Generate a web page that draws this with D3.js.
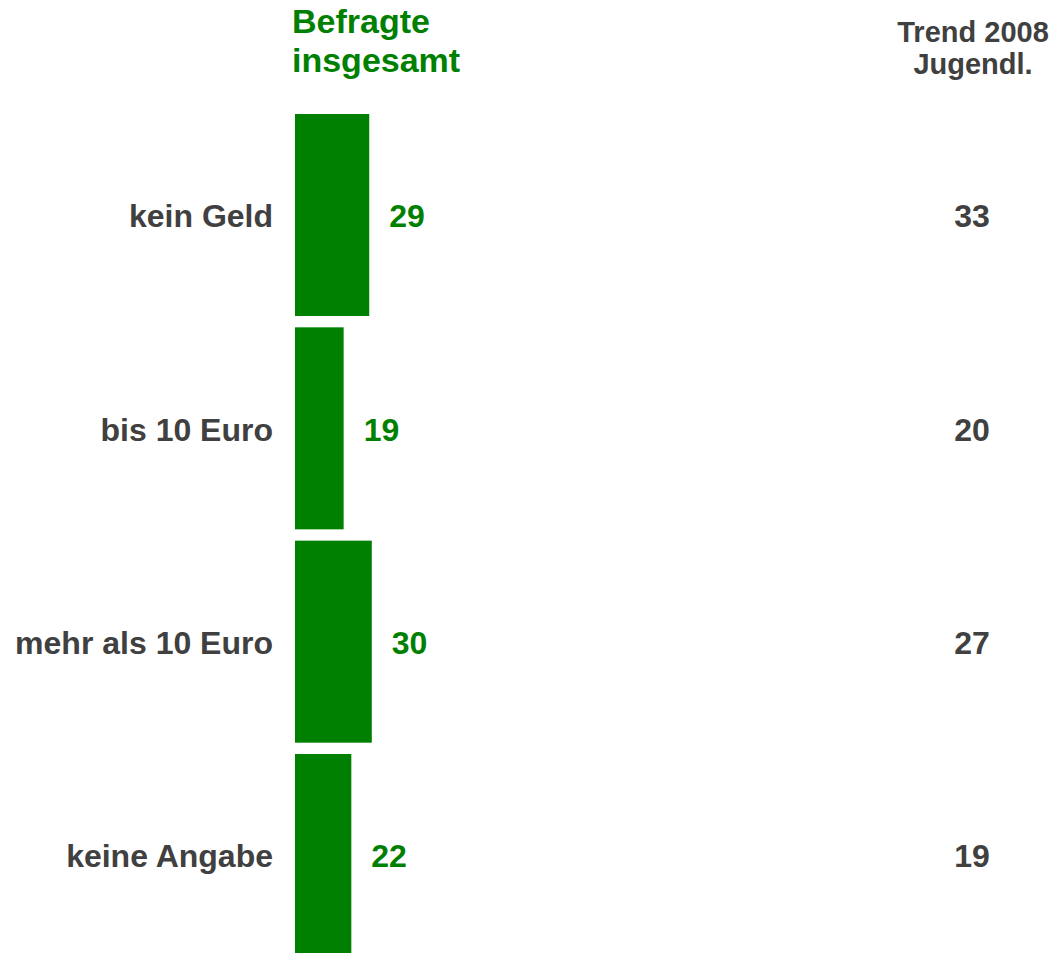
<!DOCTYPE html>
<html><head><meta charset="utf-8">
<script src="https://cdn.jsdelivr.net/npm/d3@7"></script>
<style>body{margin:0;background:#fff}svg{display:block}text{font-family:"Liberation Sans",Arial,sans-serif;font-weight:bold}</style>
</head><body>
<script>
const categories = ["kein Geld", "bis 10 Euro", "mehr als 10 Euro", "keine Angabe"];
const befragte = [29, 19, 30, 22];
const trend2008 = [33, 20, 27, 19];
const headerLeft = ["Befragte", "insgesamt"];
const headerRight = ["Trend 2008", "Jugendl."];

const W = 1051, H = 953;
const green = "#008000", grey = "#404040";
const svg = d3.select("body").append("svg").attr("width", W).attr("height", H);

const x = d3.scaleLinear().domain([0, 100]).range([295, 551]);
const y = d3.scaleBand().domain(categories).range([114, 956]).paddingInner(0.053).paddingOuter(0);

svg.selectAll("rect.bar").data(categories).join("rect")
  .attr("class", "bar")
  .attr("x", x(0)).attr("y", d => y(d))
  .attr("width", (d, i) => x(befragte[i]) - x(0))
  .attr("height", y.bandwidth())
  .attr("fill", green);

svg.selectAll("text.cat").data(categories).join("text")
  .attr("class", "cat")
  .attr("x", 273).attr("y", d => y(d) + y.bandwidth() / 2 + 1)
  .attr("dy", "0.35em").attr("text-anchor", "end")
  .attr("font-size", 32).attr("fill", grey).text(d => d);

svg.selectAll("text.val").data(categories).join("text")
  .attr("class", "val")
  .attr("x", (d, i) => x(befragte[i]) + 20).attr("y", d => y(d) + y.bandwidth() / 2 + 1)
  .attr("dy", "0.35em")
  .attr("font-size", 32).attr("fill", green).text((d, i) => befragte[i]);

svg.selectAll("text.trend").data(categories).join("text")
  .attr("class", "trend")
  .attr("x", 972).attr("y", d => y(d) + y.bandwidth() / 2 + 1)
  .attr("dy", "0.35em").attr("text-anchor", "middle")
  .attr("font-size", 32).attr("fill", grey).text((d, i) => trend2008[i]);

svg.selectAll("text.hl").data(headerLeft).join("text")
  .attr("class", "hl")
  .attr("x", 292).attr("y", (d, i) => 33 + i * 39)
  .attr("font-size", 34).attr("fill", green).text(d => d);

svg.selectAll("text.hr").data(headerRight).join("text")
  .attr("class", "hr")
  .attr("x", 973).attr("y", (d, i) => 42 + i * 32)
  .attr("text-anchor", "middle")
  .attr("font-size", 29).attr("fill", grey).text(d => d);
</script>
</body></html>
